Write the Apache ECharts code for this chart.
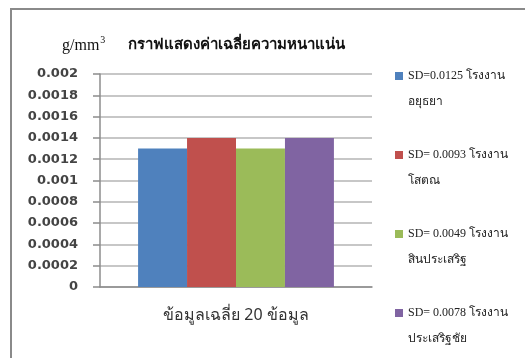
<!DOCTYPE html>
<html><head><meta charset="utf-8">
<script src="https://cdn.jsdelivr.net/npm/echarts@6/dist/echarts.min.js"></script>
<style>html,body{margin:0;padding:0;background:#fff}#c{width:525px;height:358px}</style>
</head><body><div id="c"></div>
<script>
const categories = ['ข้อมูลเฉลี่ย 20 ข้อมูล'];
const seriesNames = ['SD=0.0125 โรงงาน\nอยุธยา', 'SD= 0.0093 โรงงาน\nโสตณ', 'SD= 0.0049 โรงงาน\nสินประเสริฐ', 'SD= 0.0078 โรงงาน\nประเสริฐชัย'];
const seriesValues = [[0.0013], [0.0014], [0.0013], [0.0014]];
const colors = ['#4F81BD', '#C0504D', '#9BBB59', '#8064A2'];
const titleText = 'กราฟแสดงค่าเฉลี่ยความหนาแน่น';
const unitText = 'g/mm';
const yMin = 0, yMax = 0.002, yStep = 0.0002;

const chart = echarts.init(document.getElementById('c'));
chart.setOption({
  animation: false,
  graphic: [
    {type: 'rect', shape: {x: 11, y: 9, width: 600, height: 400}, style: {fill: 'none', stroke: '#8a8a8a', lineWidth: 2}},
    {type: 'text', left: 62, top: 35, style: {
      text: '{a|' + unitText + '}{s|3}',
      rich: {a: {fontFamily: 'Liberation Serif', fontSize: 16, fill: '#111', verticalAlign: 'bottom'},
             s: {fontFamily: 'Liberation Serif', fontSize: 10, fill: '#111', verticalAlign: 'top', padding: [0, 0, 9, 1]}}
    }}
  ],
  title: {text: titleText, left: 236, top: 38, textAlign: 'center', padding: 0,
    textStyle: {fontFamily: 'Liberation Serif, Noto Sans, serif', fontSize: 15, fontWeight: 'bold', color: '#111'}},
  color: colors,
  legend: {
    orient: 'vertical', left: 395, top: 37, bottom: 0, padding: 0, itemWidth: 8, itemHeight: 8, itemGap: 1,
    icon: 'rect',
    formatter: function (n) { return '\n' + n; },
    textStyle: {fontFamily: 'Liberation Serif, serif', fontSize: 12, color: '#222', lineHeight: 26},
    data: seriesNames
  },
  grid: {left: 100, right: 153, top: 74, bottom: 71},
  xAxis: {
    type: 'category', data: categories,
    axisLine: {lineStyle: {color: '#8c8c8c', width: 1.5}},
    axisTick: {length: 6, lineStyle: {color: '#8c8c8c', width: 1.5}},
    axisLabel: {margin: 20, fontSize: 16, color: '#333', fontFamily: 'Noto Sans, sans-serif'}
  },
  yAxis: {
    type: 'value', min: yMin, max: yMax, interval: yStep,
    axisLine: {show: true, lineStyle: {color: '#8c8c8c', width: 1.5}},
    axisTick: {show: true, length: 7, lineStyle: {color: '#8c8c8c', width: 1.5}},
    splitLine: {lineStyle: {color: '#b5b5b5', width: 1.5}},
    axisLabel: {margin: 22, fontSize: 13, color: '#444', fontWeight: 'bold', fontFamily: 'DejaVu Sans',
      formatter: function (v) { return String(Number(v.toFixed(4))); }}
  },
  series: seriesNames.map((n, i) => ({
    name: n, type: 'bar', data: seriesValues[i], barGap: '0%', barCategoryGap: '28%'
  }))
});
</script></body></html>
